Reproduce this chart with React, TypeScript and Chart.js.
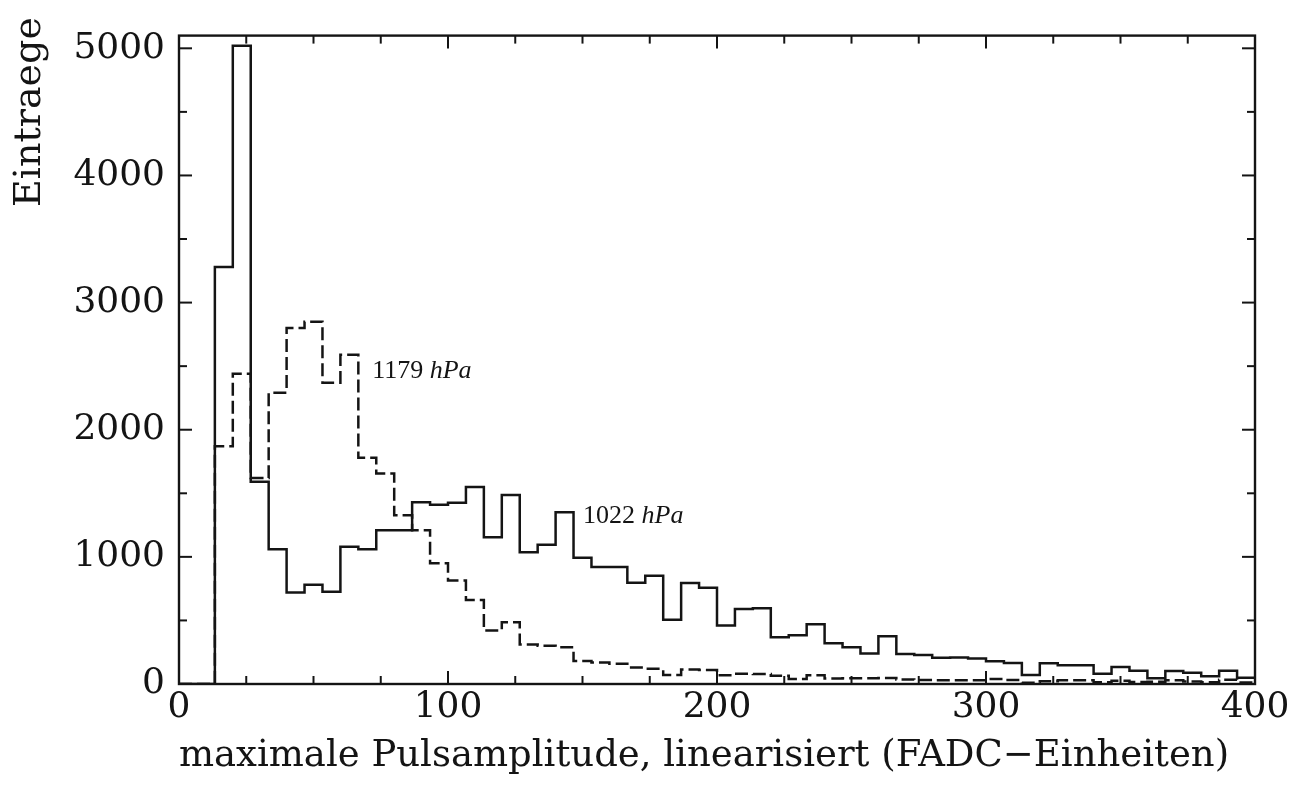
import React, { useEffect, useRef } from 'react';
import { Chart, registerables } from 'chart.js';

Chart.register(...registerables);

// Histogram binning (x axis: FADC units)
const BIN_LOW = 0;
const BIN_HIGH = 400;
const N_BINS = 60;
const binEdges: number[] = Array.from({ length: N_BINS + 1 }, (_, i) => BIN_LOW + (i * (BIN_HIGH - BIN_LOW)) / N_BINS);

// Entries per bin, 1022 hPa (solid)
const counts1022: number[] = [
  0, 0, 3280, 5020, 1590, 1060, 720, 780, 725, 1080,
  1060, 1210, 1210, 1430, 1410, 1425, 1550, 1155, 1486, 1037,
  1095, 1350, 993, 920, 920, 797, 852, 506, 795, 757,
  460, 589, 595, 367, 384, 470, 320, 290, 240, 375,
  235, 228, 207, 208, 200, 178, 166, 71, 164, 147,
  147, 80, 134, 105, 46, 102, 89, 60, 105, 50,
];

// Entries per bin, 1179 hPa (dashed)
const counts1179: number[] = [
  0, 0, 1870, 2440, 1620, 2290, 2800, 2850, 2370, 2590,
  1780, 1655, 1327, 1210, 950, 815, 660, 420, 485, 310,
  300, 290, 180, 170, 160, 130, 120, 70, 115, 110,
  68, 80, 78, 65, 40, 68, 44, 45, 45, 47,
  36, 32, 30, 30, 30, 40, 31, 10, 22, 30,
  30, 13, 25, 16, 18, 29, 20, 14, 34, 12,
];

const xTickValues: number[] = [0, 100, 200, 300, 400];
const xMinorTickValues: number[] = [25, 50, 75, 125, 150, 175, 225, 250, 275, 325, 350, 375];
const yTickValues: number[] = [0, 1000, 2000, 3000, 4000, 5000];
const yMinorTickValues: number[] = [500, 1500, 2500, 3500, 4500];

const X_TITLE = 'maximale Pulsamplitude, linearisiert (FADC\u2212Einheiten)';
const Y_TITLE = 'Eintraege';

// Curve annotations (data coordinates)
const annotations = [
  { num: '1179 ', unit: 'hPa', x: 71.8, y: 2410 },
  { num: '1022 ', unit: 'hPa', x: 150.2, y: 1265 },
];

const INK = '#141414';
const AXIS_FONT = "'DejaVu Serif', serif";

function toSteps(counts: number[]) {
  const pts = counts.map((c, i) => ({ x: binEdges[i], y: c }));
  pts.push({ x: binEdges[N_BINS], y: counts[N_BINS - 1] });
  return pts;
}

const framePlugin = {
  id: 'frameTicks',
  afterDraw(chart: any) {
    const { ctx, chartArea: a } = chart;
    const xs = chart.scales.x;
    const ys = chart.scales.y;
    ctx.save();
    ctx.strokeStyle = INK;
    ctx.lineWidth = 2.4;
    ctx.lineCap = 'butt';
    ctx.strokeRect(a.left, a.top, a.right - a.left, a.bottom - a.top);
    const line = (x1: number, y1: number, x2: number, y2: number) => {
      ctx.beginPath();
      ctx.moveTo(x1, y1);
      ctx.lineTo(x2, y2);
      ctx.stroke();
    };
    ctx.lineWidth = 2;
    const xt = [...xTickValues.map((v) => [v, 13]), ...xMinorTickValues.map((v) => [v, 8])];
    for (const [v, len] of xt) {
      const px = xs.getPixelForValue(v);
      line(px, a.bottom, px, a.bottom - len);
      line(px, a.top, px, a.top + len);
    }
    const yt = [...yTickValues.map((v) => [v, 13]), ...yMinorTickValues.map((v) => [v, 8])];
    for (const [v, len] of yt) {
      const py = ys.getPixelForValue(v);
      line(a.left, py, a.left + len, py);
      line(a.right, py, a.right - len, py);
    }

    // axis titles
    ctx.fillStyle = INK;
    ctx.font = `37px ${AXIS_FONT}`;
    ctx.textAlign = 'center';
    ctx.textBaseline = 'alphabetic';
    ctx.fillText(X_TITLE, 704, 766);

    ctx.save();
    ctx.translate(40, 112);
    ctx.rotate(-Math.PI / 2);
    ctx.font = `38px ${AXIS_FONT}`;
    ctx.fillText(Y_TITLE, 0, 0);
    ctx.restore();

    // curve labels
    for (const an of annotations) {
      const px = xs.getPixelForValue(an.x);
      const py = ys.getPixelForValue(an.y);
      ctx.textAlign = 'left';
      ctx.font = "26px 'Liberation Serif', serif";
      ctx.fillText(an.num, px, py);
      const w = ctx.measureText(an.num).width;
      ctx.font = "italic 26px 'Liberation Serif', serif";
      ctx.fillText(an.unit, px + w, py);
    }
    ctx.restore();
  },
};

export default function App() {
  const canvasRef = useRef<HTMLCanvasElement | null>(null);

  useEffect(() => {
    const canvas = canvasRef.current;
    if (!canvas) return;
    const chart = new Chart(canvas, {
      type: 'line',
      data: {
        datasets: [
          {
            label: '1179 hPa',
            data: toSteps(counts1179),
            borderColor: INK,
            borderWidth: 2.5,
            borderDash: [13, 5],
            stepped: true,
            pointRadius: 0,
            fill: false,
            tension: 0,
          },
          {
            label: '1022 hPa',
            data: toSteps(counts1022),
            borderColor: INK,
            borderWidth: 2.5,
            stepped: true,
            pointRadius: 0,
            fill: false,
            tension: 0,
          },
        ],
      },
      options: {
        responsive: false,
        animation: false,
        devicePixelRatio: 1,
        layout: { padding: { top: 18, right: 40, left: 0, bottom: 0 } },
        plugins: {
          legend: { display: false },
          tooltip: { enabled: false },
          title: { display: false },
        },
        scales: {
          x: {
            type: 'linear',
            min: BIN_LOW,
            max: BIN_HIGH,
            afterBuildTicks: (s: any) => {
              s.ticks = xTickValues.map((v) => ({ value: v }));
            },
            afterFit: (s: any) => {
              s.height = 105;
            },
            ticks: {
              font: { family: AXIS_FONT, size: 36 },
              color: INK,
              padding: 2,
              maxRotation: 0,
              autoSkip: false,
              callback: (v: any) => String(v),
            },
            grid: { display: false, drawTicks: false },
            border: { display: false },
          },
          y: {
            type: 'linear',
            min: 0,
            max: 5100,
            afterBuildTicks: (s: any) => {
              s.ticks = yTickValues.map((v) => ({ value: v }));
            },
            afterFit: (s: any) => {
              s.width = 179;
            },
            ticks: {
              font: { family: AXIS_FONT, size: 36 },
              color: INK,
              padding: 14,
              autoSkip: false,
              callback: (v: any) => String(v),
            },
            grid: { display: false, drawTicks: false },
            border: { display: false },
          },
        },
      },
      plugins: [framePlugin],
    } as any);
    return () => chart.destroy();
  }, []);

  return (
    <div style={{ position: 'fixed', left: 0, top: 0, width: 1295, height: 789, background: '#fff' }}>
      <canvas ref={canvasRef} width={1295} height={789} style={{ width: 1295, height: 789, display: 'block' }} />
    </div>
  );
}
